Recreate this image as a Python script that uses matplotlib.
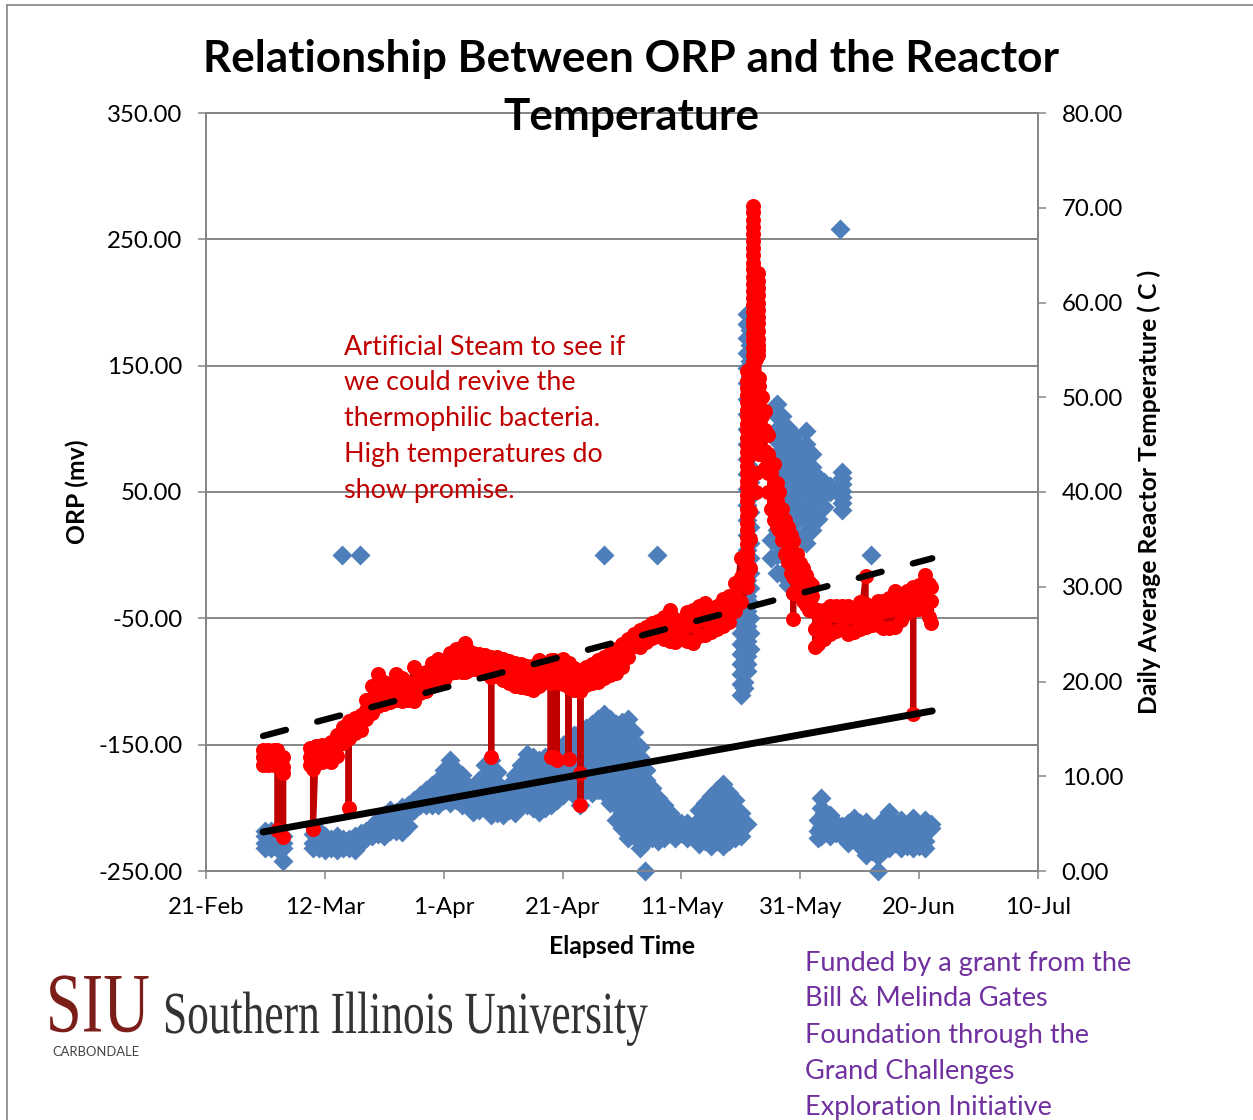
import matplotlib
matplotlib.use("Agg")
import matplotlib.pyplot as plt
from matplotlib.lines import Line2D
from matplotlib.patheffects import AbstractPathEffect
from matplotlib.transforms import Affine2D
import numpy as np

plt.rcParams['font.family'] = ['Lato', 'DejaVu Sans']

W, H = 1253, 1120

tick_days = [0, 20, 40, 60, 80, 100, 120, 140]
tick_labels = ['21-Feb', '12-Mar', '1-Apr', '21-Apr', '11-May', '31-May', '20-Jun', '10-Jul']
orp_ticks = [-250, -150, -50, 50, 150, 250, 350]
temp_ticks = [0, 10, 20, 30, 40, 50, 60, 70, 80]

# ORP readings (mv), grouped by day since 21-Feb
blue_days = [10, 11, 12, 13, 13, 18, 20, 22, 25, 27, 29, 31, 33, 35, 37, 39, 41, 43, 45, 48, 50, 52, 54, 56, 58, 60,
             62, 63, 64, 66, 67, 69, 71, 73, 75, 77, 79, 81, 83, 85, 87, 89, 90, 91,
             95, 96, 98, 100, 101, 103, 105, 107,
             103.5, 105, 107, 109, 111, 113, 115, 117, 119, 121, 122,
             22.9, 25.9, 66.9, 75.9, 111.9, 106.7, 73.9, 113]
blue_orp = [
    [-218, -222, -228, -232], [-218, -222, -228, -232], [-218, -222, -228, -232], [-222, -228, -232], [-242],
    [-214, -221, -228, -232], [-222, -228, -233], [-222, -228, -233], [-222, -228, -233],
    [-218, -224], [-210, -216, -221], [-202, -210, -218], [-199, -206, -213, -219], [-194, -202],
    [-186, -192, -198], [-178, -185, -192, -198], [-162, -170, -178, -186, -196],
    [-174, -182, -190, -198], [-188, -196, -203], [-162, -170, -178, -186, -194, -206],
    [-186, -196, -206], [-174, -182, -190, -198, -204], [-157, -165, -173, -181, -190, -198],
    [-162, -170, -178, -186, -195, -203], [-158, -166, -174, -182, -190, -198],
    [-150, -158, -166, -174, -182, -190],
    [-142, -150, -158, -166, -174, -182, -190], [-198], [-137, -145, -153, -161, -169, -177, -186],
    [-130, -138, -146, -154, -162, -170, -178, -186], [-126, -134, -142, -150, -158, -166, -174, -182, -188],
    [-134, -142, -150, -158, -166, -174, -182, -190, -198, -210],
    [-130, -138, -146, -154, -162, -170, -178, -186, -194, -202, -210, -218, -224],
    [-152, -160, -168, -176, -184, -192, -200, -208, -216, -224, -232],
    [-184, -192, -200, -208, -216, -224], [-198, -206, -214, -224], [-210, -217, -224], [-212, -218, -224],
    [-202, -210, -218, -224, -229], [-191, -199, -207, -215, -223, -230],
    [-181, -189, -197, -205, -213, -221, -230], [-194, -202, -210, -218, -224],
    [-54, -62, -70, -78, -86, -94, -102, -111],
    [172, 160, 148, 136, 124, 112, 100, 88, 76, 64, 52, 40, 28, 16, 4, -8, -20, -32, -44, -56, -68, -80, -92, 191, 183, -213],
    [12, -2], [120, 110, 100, 90, 80, 70, 60, 50, 40, 30, 20, 10, 0, -14],
    [101, 91, 81, 71, 61, 51, 41, 31, 21, 11, 1, -9, -24], [69, 59, 49, 36],
    [98, 88, 78, 68, 58, 48, 38, 28, 18, 10], [62, 52, 42, 29], [55, 50], [66, 56, 46, 36],
    [-192, -200, -208, -215, -222], [-206, -214, -222], [-214, -222], [-208, -216, -225],
    [-211, -219, -227, -237], [-214, -222, -230, -238], [-203, -211, -219, -227, -232],
    [-210, -218, -226, -232], [-208, -216, -224, -232], [-210, -218, -226, -232], [-213, -216],
    [0], [0], [0], [0], [0], [258], [-250], [-250],
]
# further ORP readings between the columns above
blue_days2 = [10.5, 11.5, 12.5, 19, 21, 23, 24, 26, 28, 30, 32, 34, 36, 38, 40, 42, 44, 46, 47, 49, 51, 53, 55, 57, 59, 61,
              63, 65, 68, 70, 72, 74, 76, 78, 80, 82, 84, 86, 88, 90, 90.5, 91.5, 97, 99, 102, 104, 107,
              104, 106, 108, 110, 112, 114, 116, 118, 120, 103, 99.5, 100.5, 91]
blue_orp2 = [
    [-225], [-225], [-225], [-218, -225, -232], [-225, -232], [-225, -232], [-225, -232], [-220, -228], [-214, -222],
    [-206, -214, -222], [-203, -210, -218], [-198, -206, -214], [-190, -198], [-182, -190, -198],
    [-170, -178, -186, -194], [-170, -178, -186, -194], [-182, -190, -198], [-178, -186, -194, -202],
    [-166, -174, -182, -190, -198], [-172, -180, -188, -196, -204], [-182, -192, -202], [-166, -174, -182, -190, -198],
    [-160, -168, -176, -184, -192, -200], [-160, -168, -176, -184, -192, -200], [-154, -162, -170, -178, -186, -194],
    [-146, -154, -162, -170, -178, -186], [-140, -148, -156, -164, -172, -180, -188],
    [-134, -142, -150, -158, -166, -174, -182, -188],
    [-130, -138, -146, -154, -162, -170, -178, -186, -196],
    [-132, -140, -148, -156, -164, -172, -180, -188, -196, -204, -216],
    [-140, -148, -156, -164, -172, -180, -188, -196, -204, -212, -222],
    [-170, -178, -186, -194, -202, -210, -218, -226], [-192, -200, -208, -216, -226], [-204, -212, -220],
    [-212, -220], [-214, -222], [-196, -204, -212, -220, -226], [-186, -194, -202, -210, -218, -226],
    [-188, -196, -204, -212, -220, -226], [-204, -212, -222], [-52, -60, -68, -76, -84, -92, -100, -105],
    [178, 166, 154, 142, 130, 118, 106, 94, 82, 70, 58, 46, 34, 22, 10, -2, -14, -26, -38, -50, -62, -74],
    [110, 100, 90, 80, 70, 60, 50, 40, 30, 20, 10, 0, -15], [95, 85, 75, 65, 55, 45, 35, 25, 15],
    [80, 70, 60, 50, 40, 30, 20], [58, 48, 38], [61, 51, 41],
    [-204, -212, -220], [-212, -220], [-212, -220, -228], [-212, -220, -230], [-218, -226, -234], [-210, -218, -226, -234],
    [-212, -220, -228], [-214, -222, -230], [-214, -222, -230], [-210, -218, -224], [89, 79], [79, 70],
    [-38, -50, -62, -74, -86],
]

# Daily average temperature (C), grouped by day since 21-Feb
red_days = [9.6, 10.5, 11.5, 12, 13, 15, 17.5, 18, 18.5, 19.5, 21, 22, 23, 24, 25, 26, 27, 28, 29, 30, 31, 32, 33, 34,
            35, 36, 37, 38, 39, 40, 41, 42, 43, 43.5, 44, 45, 46, 47, 48, 49, 50, 51, 52, 53, 54, 55, 56, 57, 58, 58.5,
            59, 60, 61, 62, 63, 64, 65, 66, 67, 68, 69, 70, 71, 72, 73, 74, 75, 76, 77, 78, 79, 80, 81, 82, 83, 84, 85,
            86, 87, 88, 89, 90, 91, 92, 92.9, 93, 94, 95, 96, 97, 98, 98.8, 100, 101, 102, 102.5, 103, 104, 105, 106,
            107, 108, 109, 110, 111, 112, 113, 114, 115, 116, 117, 118, 119, 120, 121, 121.6, 122]
red_temp = [
    [12.8, 12.0, 11.2], [12.8, 12.0, 11.2], [12.8, 12.0, 11.2], [12.8, 12.0, 11.2, 4.3], [12.0, 11.0, 10.3, 3.6], [np.nan],
    [13.0, 12.0, 11.2], [13.0, 12.0, 10.8, 4.4], [13.2, 12.3, 11.3], [13.3, 12.3, 11.5], [13.6, 12.7, 11.5],
    [14.4, 13.2, 12.1], [15.2, 14.5, 13.5], [15.8, 14.8, 14.0, 6.7, 14.0], [16.2, 15.2, 14.6], [16.5, 15.8, 14.9],
    [18.0, 17.0, 16.0], [19.5, 18.0, 16.7], [20.8, 19.0, 17.4], [20.0, 18.8, 17.6], [19.7, 18.6, 17.8],
    [20.8, 19.5, 18.0], [20.4, 19.1, 17.9], [19.8, 18.8, 18.0], [21.5, 19.8, 17.9], [20.9, 19.8, 18.8],
    [21.0, 20.0, 19.0], [22.0, 21.0, 20.0], [22.4, 21.3, 20.5], [21.8, 21.0, 20.2], [23.0, 22.0, 20.9],
    [23.4, 22.5, 21.0], [23.6, 22.5, 21.0], [24.1, 22.6, 21.0], [23.4, 22.3, 21.1], [23.0, 22.2, 21.3],
    [22.9, 22.0, 21.2], [22.8, 21.9, 20.9], [22.6, 21.5, 20.5, 12.0, 20.5], [22.6, 21.6, 20.6], [22.4, 21.4, 20.2],
    [22.2, 21.0, 19.8], [22.0, 20.6, 19.5], [21.8, 20.5, 19.4], [21.6, 20.5, 19.3], [21.6, 20.5, 19.1],
    [22.3, 21.0, 19.5], [22.0, 20.6, 19.9], [22.3, 21.0, 19.8, 12.0, 20.0], [22.3, 21.0, 20.0, 12.0, 20.0],
    [22.2, 21.0, 19.9, 11.7, 20.0], [22.4, 21.0, 19.7], [22.0, 20.6, 19.4, 11.8, 19.4], [21.4, 20.2, 19.1],
    [21.0, 20.0, 19.0, 10.3, 7.0, 19.0], [21.5, 20.5, 19.6], [21.8, 20.8, 19.8], [22.3, 21.0, 20.0],
    [22.6, 21.5, 20.4], [23.0, 22.0, 20.7], [23.4, 22.4, 20.9], [24.0, 23.0, 21.5], [24.5, 23.6, 22.6],
    [25.0, 24.2, 23.7], [25.4, 24.6, 23.6], [25.8, 25.0, 24.2], [26.2, 25.4, 24.6], [26.4, 25.6, 24.8],
    [26.8, 25.6, 24.5], [27.5, 26.0, 24.3], [26.6, 25.5, 24.2], [26.4, 25.6, 24.5], [27.3, 26.0, 24.3],
    [27.5, 26.0, 24.1], [28.0, 26.5, 24.8], [28.3, 26.5, 24.9], [27.5, 26.5, 25.2], [28.0, 27.0, 25.5],
    [28.7, 27.5, 25.9], [29.0, 27.8, 26.3], [30.4, 29.0, 27.4], [33.0, 31.0, 28.4],
    [30.0, 31.5, 33.0, 34.5, 36.0, 37.5, 39.0, 40.5, 42.0, 43.5, 45.0, 46.5, 48.0, 49.5, 51.0, 52.8],
    [46.2, 47.7, 49.2, 50.7, 52.2, 53.7, 55.2, 56.7, 58.2, 59.7, 61.2, 62.7, 64.2, 65.7, 67.2, 68.7, 70.2],
    [63.1, 61.5, 60.0, 58.5, 57.0, 55.5, 54.5], [52.0, 51.2, 50.0, 48.0, 46.0, 44.0],
    [48.5, 46.5, 44.3, 42.5], [42.0, 40.0, 38.2], [41.0, 39.0, 37.0, 36.3], [38.2, 36.5, 34.9],
    [36.3, 34.5, 32.6], [34.8, 33.0, 31.0, 29.3, 26.6, 29.3], [32.5, 31.0, 29.3], [31.2, 29.6, 28.1], [30.2, 29.0, 27.9],
    [27.3, 25.5, 23.6], [27.5, 26.0, 24.0], [27.5, 26.0, 24.5], [28.0, 27.0, 25.0], [28.0, 27.0, 25.3],
    [28.0, 27.0, 25.5], [28.0, 26.8, 25.0], [27.8, 26.8, 25.2], [28.4, 27.0, 25.5], [31.1, 28.2, 27.0, 25.8],
    [28.0, 27.0, 26.0], [28.5, 27.2, 26.0], [28.5, 27.4, 25.6], [28.8, 27.5, 25.6], [29.5, 27.8, 25.7],
    [29.0, 28.0, 26.5], [29.5, 28.5, 27.2], [30.0, 28.6, 16.6, 27.5], [30.2, 28.8, 27.6], [31.2, 29.5, 27.6],
    [30.3, 28.5, 26.8], [30.0, 28.5, 26.2],
]
# further temperature readings in the steep part of the run
red_days2 = [91, 91.5, 92, 92.5, 92.9, 93.5, 94.5, 95.5, 96.5, 97.5, 98.5, 99.5, 100.5, 101.5]
red_temp2 = [
    [30.7, 32.2, 33.7, 35.2, 36.7, 38.2, 39.7, 41.2, 42.7, 44.2, 45.7, 47.2, 48.7, 50.2, 51.7],
    [53.0, 50.0, 47.0, 44.0, 41.0, 38.0, 35.0, 32.0],
    [69.5, 68.0, 66.5, 65.0, 63.5, 62.0, 60.5, 59.0, 57.5, 56.0, 54.5, 53.0, 51.5, 50.0, 48.5, 46.9],
    [60.0, 57.0, 54.0, 51.0, 48.0, 45.0, 42.0, 40.0],
    [62.3, 60.8, 59.2, 57.8, 56.2, 55.0],
    [50.0, 48.0, 46.0, 44.0], [46.0, 44.0, 42.0, 40.0], [43.0, 41.0, 39.0, 37.0], [40.0, 38.0, 36.0], [37.0, 35.0, 33.5],
    [35.5, 33.5, 31.5], [33.5, 31.5, 29.5], [32.0, 30.0, 28.5], [30.5, 29.0, 27.5],
]

orp_trend_days = [9.6, 122.2]
orp_trend_vals = [-219.1, -123.3]
temp_trend_days = [9.6, 122.2]
temp_trend_vals = [14.25, 33.0]


def flat(days, cols):
    return [d for d, c in zip(days, cols) for _ in c], [v for c in cols for v in c]


blue_x, blue_y = flat(blue_days + blue_days2, blue_orp + blue_orp2)
red_x, red_y = flat(red_days, red_temp)
red2_x, red2_y = flat(red_days2, red_temp2)

fig = plt.figure(figsize=(W / 100, H / 100), dpi=100, facecolor='white')
ax = fig.add_axes([206 / W, 1 - 871 / H, (1038 - 206) / W, (871 - 113) / H])
ax2 = ax.twinx()
ax.set_zorder(1)
ax2.set_zorder(2)
ax.patch.set_facecolor('white')
ax2.patch.set_alpha(0)

GREY = '#868686'
ax.set_xlim(0, 140)
ax.set_ylim(-250, 350)
ax2.set_ylim(0, 80)
ax.set_xticks(tick_days)
ax.set_xticklabels(tick_labels)
ax.set_yticks(orp_ticks)
ax.set_yticklabels([f'{v:.2f}' for v in orp_ticks])
ax2.set_yticks(temp_ticks)
ax2.set_yticklabels([f'{v:.2f}' for v in temp_ticks])
ax.grid(axis='y', color=GREY, lw=1.4)
ax.set_axisbelow(True)
for a in (ax, ax2):
    a.tick_params(axis='both', length=6, width=1.1, color=GREY, labelsize=17.3, labelcolor='black', pad=11)
    for s in a.spines.values():
        s.set_color(GREY)
        s.set_linewidth(1.3)
ax.tick_params(axis='x', pad=13)

ax.plot(blue_x, blue_y, ls='none', marker='D', ms=10.4, mfc='#4F7FBB', mec='none', zorder=3, clip_on=False)
ax2.plot(red_x, red_y, '-', color='#C00000', lw=4.4, marker='o', ms=10.8, mfc='#FF0000', mec='none',
         zorder=4, solid_joinstyle='round')
ax2.plot(red2_x, red2_y, ls='none', marker='o', ms=10.8, mfc='#FF0000', mec='none', zorder=5)
ax2.plot(temp_trend_days, temp_trend_vals, color='black', lw=4.6, dashes=(3.7, 5.07), dash_capstyle='round', zorder=6)
ax2.plot(orp_trend_days, [(v + 250) * 80 / 600 for v in orp_trend_vals], color='black', lw=5,
         solid_capstyle='round', zorder=6)


class Squeeze(AbstractPathEffect):
    """Rescales a text about an anchor point, as the condensed, tall logo lettering is."""

    def __init__(self, x0, y0, sx, sy=1.0):
        super().__init__()
        self.x0, self.y0, self.sx, self.sy = x0, y0, sx, sy

    def draw_path(self, renderer, gc, tpath, affine, rgbFace=None):
        t = affine + Affine2D().translate(-self.x0, -self.y0).scale(self.sx, self.sy).translate(self.x0, self.y0)
        renderer.draw_path(gc, tpath, t, rgbFace)


def T(px, py, s, **kw):
    return fig.text(px / W, 1 - py / H, s, **kw)


T(631, 59, 'Relationship Between ORP and the Reactor', ha='center', va='center', fontsize=31.8, fontweight='bold', zorder=10)
T(631, 117, 'Temperature', ha='center', va='center', fontsize=31.8, fontweight='bold', zorder=10)
T(77, 492, 'ORP (mv)', rotation=90, ha='center', va='center', fontsize=17.8, fontweight='bold')
T(1149, 492, 'Daily Average Reactor Temperature ( C )', rotation=90, ha='center', va='center', fontsize=17.8, fontweight='bold')
T(622, 947, 'Elapsed Time', ha='center', va='center', fontsize=17.8, fontweight='bold')

for py, s in zip([347.5, 382.5, 418.5, 454.5, 490.5],
                 ['Artificial Steam to see if', 'we could revive the', 'thermophilic bacteria.',
                  'High temperatures do', 'show promise.']):
    T(344, py, s, ha='left', va='center', fontsize=19.35, color='#C00000', zorder=10)
for py, s in zip([964, 999, 1035, 1071, 1107],
                 ['Funded by a grant from the', 'Bill & Melinda Gates', 'Foundation through the',
                  'Grand Challenges', 'Exploration Initiative']):
    T(805, py, s, ha='left', va='center', fontsize=19.5, color='#7030A0')

t1 = T(150, 1031.5, 'SIU', ha='right', va='baseline', fontsize=50, family='Liberation Serif', color='#7B1E1A')
t1.set_path_effects([Squeeze(150, H - 1031.5, 0.93, 1.22)])
t2 = T(163, 1033, 'Southern Illinois University', ha='left', va='baseline', fontsize=43, family='Liberation Serif', color='#333333')
t2.set_path_effects([Squeeze(163, H - 1033, 0.727)])
T(52, 1056, 'CARBONDALE', ha='left', va='baseline', fontsize=9.4, color='#444444')

fig.add_artist(Line2D([7 / W, 7 / W], [0, 1 - 5 / H], color='#8C8C8C', lw=1.3))
fig.add_artist(Line2D([7 / W, 1], [1 - 5 / H, 1 - 5 / H], color='#8C8C8C', lw=1.3))

fig.savefig('out.png', dpi=100)
